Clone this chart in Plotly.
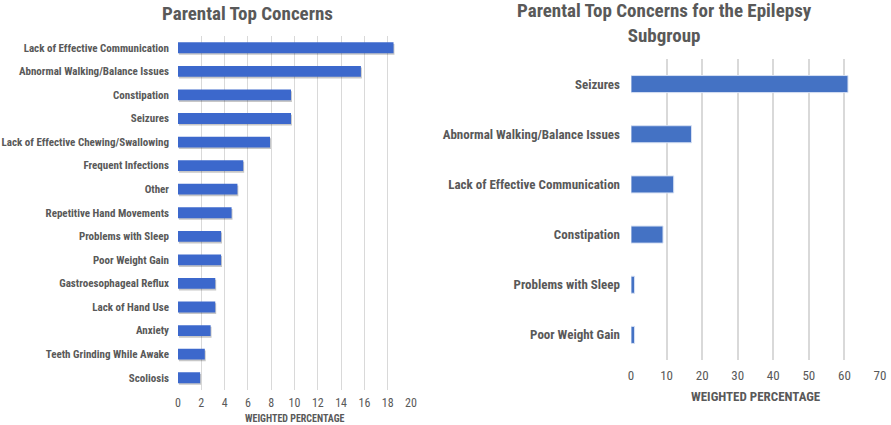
import plotly.graph_objects as go

left_categories = [
    "Lack of Effective Communication",
    "Abnormal Walking/Balance Issues",
    "Constipation",
    "Seizures",
    "Lack of Effective Chewing/Swallowing",
    "Frequent Infections",
    "Other",
    "Repetitive Hand Movements",
    "Problems with Sleep",
    "Poor Weight Gain",
    "Gastroesophageal Reflux",
    "Lack of Hand Use",
    "Anxiety",
    "Teeth Grinding While Awake",
    "Scoliosis",
]
left_values = [18.5, 15.7, 9.7, 9.7, 7.9, 5.6, 5.1, 4.6, 3.7, 3.7, 3.2, 3.2, 2.8, 2.3, 1.9]

right_categories = [
    "Seizures",
    "Abnormal Walking/Balance Issues",
    "Lack of Effective Communication",
    "Constipation",
    "Problems with Sleep",
    "Poor Weight Gain",
]
right_values = [61, 17, 12, 9, 1, 1]

left_ticks = list(range(0, 21, 2))
right_ticks = list(range(0, 71, 10))

BAR_L = "#3C68CC"
BAR = "#4472C4"
TXT = "#595959"
GRID = "#D9D9D9"
FONT = "Liberation Sans Narrow, Roboto Condensed, Arial Narrow, sans-serif"

LW = 0.46
fig = go.Figure()
# soft drop shadow under the left bars
fig.add_trace(go.Bar(
    x=left_values, y=left_categories, orientation="h",
    marker=dict(color="rgba(0,0,0,0.22)", line=dict(width=0)),
    xaxis="x", yaxis="y", showlegend=False, width=LW, offset=-LW/2 - 0.07,
    base=0.08, hoverinfo="skip",
))
fig.add_trace(go.Bar(
    x=left_values, y=left_categories, orientation="h",
    marker=dict(color=BAR_L, line=dict(width=0)),
    xaxis="x", yaxis="y", showlegend=False, width=LW, offset=-LW/2,
))
fig.add_trace(go.Bar(
    x=right_values, y=right_categories, orientation="h",
    marker=dict(color=BAR, line=dict(width=1, color="#D6E0F3")),
    xaxis="x2", yaxis="y2", showlegend=False, width=0.34,
))

fig.update_layout(
    width=891, height=425,
    margin=dict(l=0, r=0, t=0, b=0),
    paper_bgcolor="white", plot_bgcolor="white",
    font=dict(family=FONT, color=TXT),
    barmode="overlay",
    xaxis=dict(
        domain=[178/891, 411/891], anchor="y", automargin=False,
        range=[0, 20], tickvals=left_ticks,
        showgrid=True, gridcolor=GRID, gridwidth=1,
        zeroline=False, showline=False, ticks="",
        ticklabelstandoff=4,
        tickfont=dict(size=12, family=FONT, color=TXT),
    ),
    yaxis=dict(
        domain=[1-389.5/425, 1-36/425], anchor="x", automargin=False,
        categoryorder="array", categoryarray=left_categories[::-1],
        showgrid=False, zeroline=False, showline=False, ticks="",
        ticklabelstandoff=8,
        tickfont=dict(size=11, family=FONT, color=TXT, weight="bold"),
    ),
    xaxis2=dict(
        domain=[631/891, 880/891], anchor="y2", automargin=False,
        range=[0, 70], tickvals=right_ticks,
        showgrid=True, gridcolor=GRID, gridwidth=1.5,
        zeroline=False, showline=False, ticks="",
        ticklabelstandoff=6,
        tickfont=dict(size=13, family=FONT, color=TXT),
    ),
    yaxis2=dict(
        domain=[1-360/425, 1-59/425], anchor="x2", automargin=False,
        categoryorder="array", categoryarray=right_categories[::-1],
        showgrid=False, zeroline=False, showline=False, ticks="",
        ticklabelstandoff=10,
        tickfont=dict(size=13, family=FONT, color=TXT, weight="bold"),
    ),
    annotations=[
        dict(text="<b>Parental Top Concerns</b>", x=247/891, y=1-13/425,
             xref="paper", yref="paper", showarrow=False,
             xanchor="center", yanchor="middle",
             font=dict(size=19, family=FONT, color=TXT)),
        dict(text="<b>Parental Top Concerns for the Epilepsy<br>Subgroup</b>", x=664/891, y=1-23/425,
             xref="paper", yref="paper", showarrow=False,
             xanchor="center", yanchor="middle",
             font=dict(size=19, family=FONT, color=TXT)),
        dict(text="<b>WEIGHTED PERCENTAGE</b>", x=295/891, y=1-418/425,
             xref="paper", yref="paper", showarrow=False,
             xanchor="center", yanchor="middle",
             font=dict(size=10, family=FONT, color=TXT)),
        dict(text="<b>WEIGHTED PERCENTAGE</b>", x=755.5/891, y=1-396/425,
             xref="paper", yref="paper", showarrow=False,
             xanchor="center", yanchor="middle",
             font=dict(size=13, family=FONT, color=TXT)),
    ],
)

fig.write_html(
    "out.html",
    config={"displayModeBar": False},
    post_script="document.body.style.margin='0';document.body.style.overflow='hidden';",
)
